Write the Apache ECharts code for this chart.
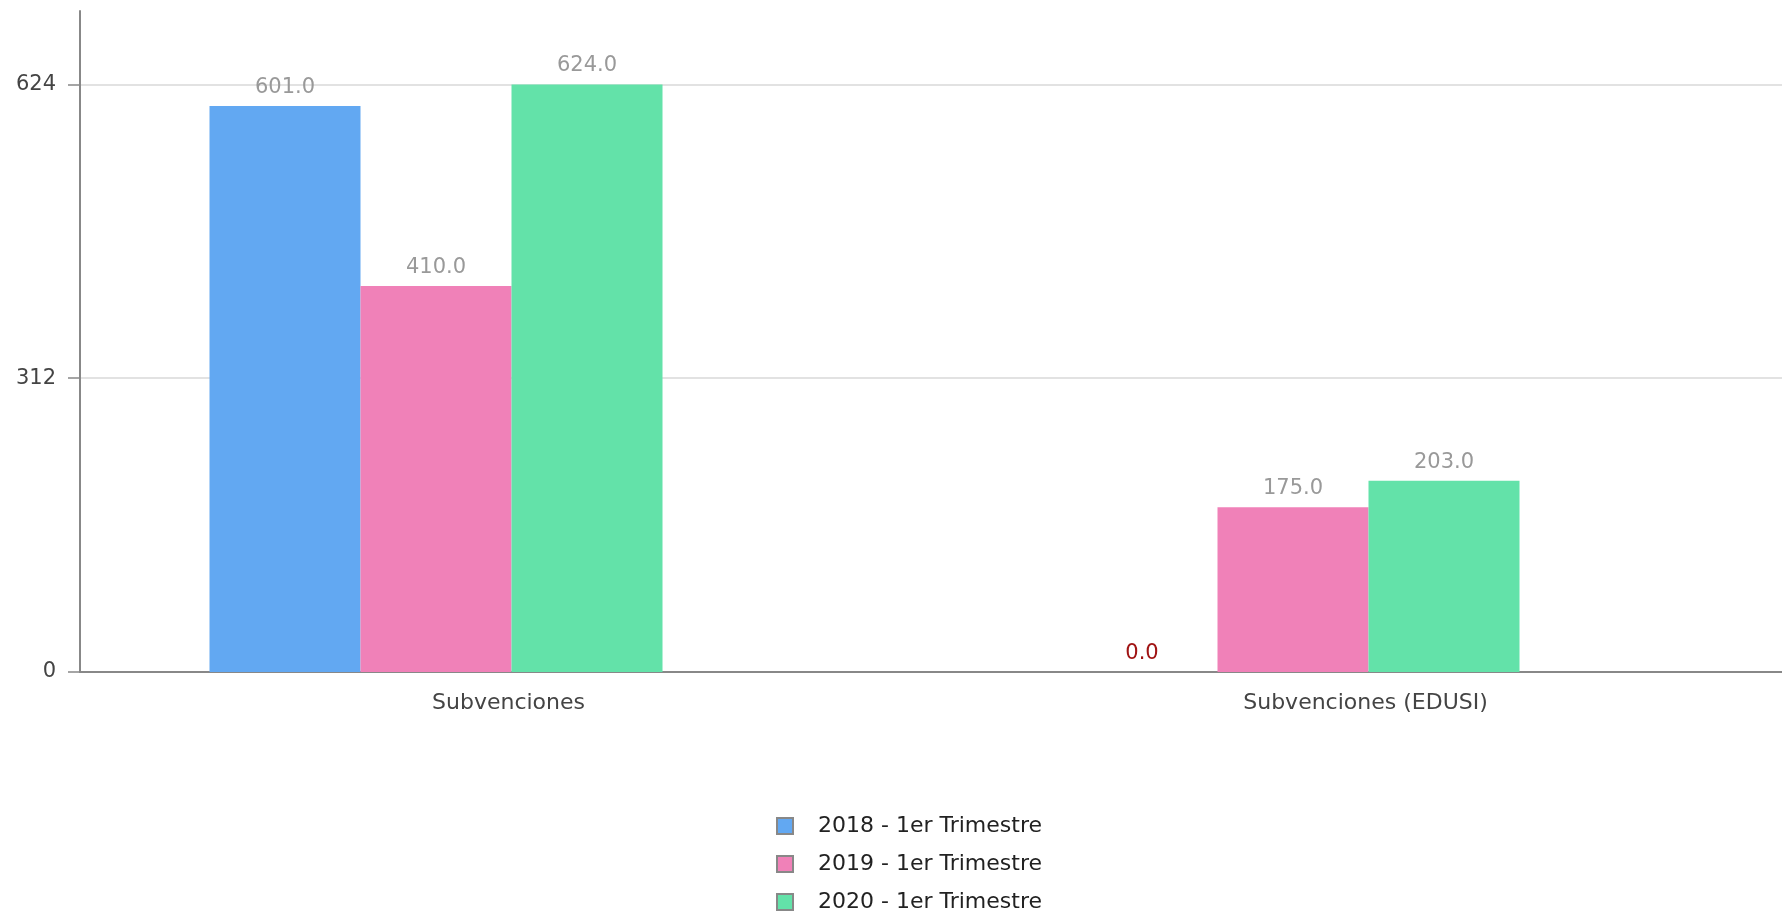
<!DOCTYPE html>
<html><head><meta charset="utf-8">
<script src="https://cdn.jsdelivr.net/npm/echarts@6/dist/echarts.min.js"></script>
<style>html,body{margin:0;padding:0;background:#fff;overflow:hidden}#c{width:1794px;height:914px}</style>
</head><body><div id="c"></div>
<script>
const categories = ['Subvenciones', 'Subvenciones (EDUSI)'];
const seriesNames = ['2018 - 1er Trimestre', '2019 - 1er Trimestre', '2020 - 1er Trimestre'];
const values2018 = [601, 0];
const values2019 = [410, 175];
const values2020 = [624, 203];
const yTicks = [0, 312, 624];
const colors = ['#62A8F2', '#F081B8', '#63E2A9'];
const FONT = 'DejaVu Sans';
const allValues = [values2018, values2019, values2020];

const series = allValues.map((vals, i) => ({
  name: seriesNames[i],
  type: 'bar',
  barWidth: 151,
  barGap: '0%',
  itemStyle: { color: colors[i] },
  data: vals.map(v => ({
    value: v,
    label: { color: v === 0 ? '#A01414' : '#999999' }
  })),
  label: {
    show: true, position: 'top', distance: 8,
    fontFamily: FONT, fontSize: 21,
    formatter: p => Number(p.value).toFixed(1)
  }
}));
series.push({ name: 'spacer', type: 'bar', barWidth: 145, barGap: '0%', data: categories.map(() => null), silent: true });

const chart = echarts.init(document.getElementById('c'));
chart.setOption({
  animation: false,
  grid: { left: 80, top: 11, right: 0, bottom: 242, containLabel: false },
  legend: {
    data: seriesNames, orient: 'vertical', left: 776, top: 815, padding: 0,
    height: 120,
    itemWidth: 16, itemHeight: 16, itemGap: 16,
    icon: 'rect',
    itemStyle: { borderColor: '#888', borderWidth: 2 },
    textStyle: { fontFamily: FONT, fontSize: 22, lineHeight: 16, color: '#222', padding: [0, 0, 0, 20] }
  },
  xAxis: {
    type: 'category', data: categories,
    axisLine: { lineStyle: { color: '#888', width: 2 } },
    axisTick: { show: false },
    axisLabel: { fontFamily: FONT, fontSize: 22, color: '#444', margin: 20 }
  },
  yAxis: {
    type: 'value', min: 0, max: 702, interval: 312,
    axisLine: { show: true, lineStyle: { color: '#888', width: 2 } },
    axisTick: { show: true, length: 12, lineStyle: { color: '#888', width: 1.5 }, customValues: yTicks },
    axisLabel: { fontFamily: FONT, fontSize: 21, color: '#444', margin: 24, customValues: yTicks },
    splitLine: { show: true, lineStyle: { color: '#e2e2e2', width: 2 } }
  },
  series: series
});
</script></body></html>
